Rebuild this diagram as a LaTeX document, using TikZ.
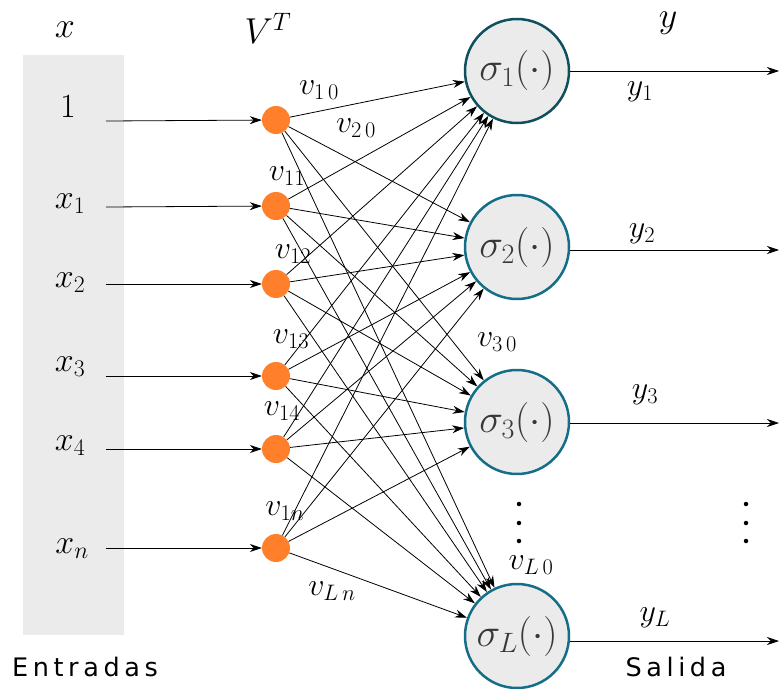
\RequirePackage{fix-cm}
\documentclass[tikz,border=0pt]{standalone}
\usepackage{fontspec}
\newfontfamily\labelsans[LetterSpace=18]{DejaVu Sans}
\usetikzlibrary{arrows.meta}
\definecolor{orng}{RGB}{255,127,42}
\definecolor{boxgray}{RGB}{235,235,235}
\definecolor{tealdark}{RGB}{14,80,94}
\definecolor{tealmid}{RGB}{21,110,135}
\definecolor{neurtext}{RGB}{55,55,55}
\begin{document}
\begin{tikzpicture}[x=1pt,y=-1pt,
  unit/.style={circle, fill=orng, minimum size=28pt, inner sep=0pt},
  neuron/.style={circle, draw=tealmid, line width=2.5pt, fill=boxgray, minimum size=104pt, inner sep=0pt, text=neurtext, font=\fontsize{40}{44}\selectfont},
  conn/.style={-{Stealth[length=12pt,width=8pt]}, line width=0.8pt},
  inlbl/.style={font=\fontsize{34}{38}\selectfont},
  hdr/.style={font=\fontsize{36}{40}\selectfont},
  wlbl/.style={font=\fontsize{32}{36}\selectfont},
  olbl/.style={font=\fontsize{32}{36}\selectfont},
  sanslbl/.style={font=\labelsans\fontsize{25.5}{29}\selectfont},
  vdot/.style={circle, fill=black, minimum size=4.5pt, inner sep=0pt}
]
\useasboundingbox (0,0) rectangle (779,688);
\fill[boxgray] (23,55) rectangle (124,635);

% headers
\node[hdr] (hx) at (65,30) {$x$};
\node[hdr] (hv) at (268,28) {$V^T$};
\node[hdr] (hy) at (668,23) {$y$};

% input labels
\node[inlbl] (l0) at (68,107) {$1$};
\node[inlbl] (l1) at (70,204) {$x_1$};
\node[inlbl] (l2) at (70,283) {$x_2$};
\node[inlbl] (l3) at (70,367) {$x_3$};
\node[inlbl] (l4) at (70,446) {$x_4$};
\node[inlbl] (l5) at (72,549) {$x_n$};

% input line starts
\coordinate (i1) at (106,121);
\coordinate (i2) at (106,207);
\coordinate (i3) at (106,284);
\coordinate (i4) at (106,376);
\coordinate (i5) at (106,449);
\coordinate (i6) at (106,548);

% orange units
\node[unit] (d1) at (276,120) {};
\node[unit] (d2) at (276,206) {};
\node[unit] (d3) at (276,284) {};
\node[unit] (d4) at (276,376) {};
\node[unit] (d5) at (276,449) {};
\node[unit] (d6) at (276,548) {};

% neurons
\node[neuron, draw=tealdark] (n1) at (517,71) {$\sigma_1(\cdot)$};
\node[neuron] (n2) at (517,247) {$\sigma_2(\cdot)$};
\node[neuron] (n3) at (517,422) {$\sigma_3(\cdot)$};
\node[neuron] (nL) at (517,636) {$\sigma_L(\cdot)$};

% inputs
\foreach \k in {1,...,6} \draw[conn] (i\k) -- (d\k);

% full connections
\foreach \d in {d1,d2,d3,d4,d5,d6}
  \foreach \n in {n1,n2,n3,nL}
    \draw[conn] (\d) -- (\n);

% outputs
\coordinate (o1) at (779,71);
\coordinate (o2) at (779,250);
\coordinate (o3) at (779,423);
\coordinate (oL) at (779,641);
\draw[conn] (n1.east |- o1) -- (o1);
\draw[conn] (n2.east |- o2) -- (o2);
\draw[conn] (n3.east |- o3) -- (o3);
\draw[conn] (nL.east |- oL) -- (oL);

% output labels
\node[olbl] (y1) at (640,92) {$y_1$};
\node[olbl] (y2) at (642,234) {$y_2$};
\node[olbl] (y3) at (645,395) {$y_3$};
\node[olbl] (yL) at (655,618) {$y_L$};

% weight labels
\node[wlbl] (w10) at (319,90) {$v_{1\,0}$};
\node[wlbl] (w20) at (356,128) {$v_{2\,0}$};
\node[wlbl] (w11) at (287,176) {$v_{11}$};
\node[wlbl] (w12) at (293,254) {$v_{12}$};
\node[wlbl] (w13) at (291,339) {$v_{13}$};
\node[wlbl] (w14) at (282,411) {$v_{14}$};
\node[wlbl] (w1n) at (285,511) {$v_{1n}$};
\node[wlbl] (wLn) at (332,591) {$v_{L\,n}$};
\node[wlbl] (w30) at (497,342) {$v_{3\,0}$};
\node[wlbl] (wL0) at (531,565) {$v_{L\,0}$};

% vertical ellipses
\node[vdot] (a1) at (519,504) {};
\node[vdot] (a2) at (519,523) {};
\node[vdot] (a3) at (519,541) {};
\node[vdot] (b1) at (746,504) {};
\node[vdot] (b2) at (746,523) {};
\node[vdot] (b3) at (746,541) {};

% captions
\node[sanslbl] (cin) at (85,667) {Entradas};
\node[sanslbl] (cout) at (676,667) {Salida};
\end{tikzpicture}
\end{document}
